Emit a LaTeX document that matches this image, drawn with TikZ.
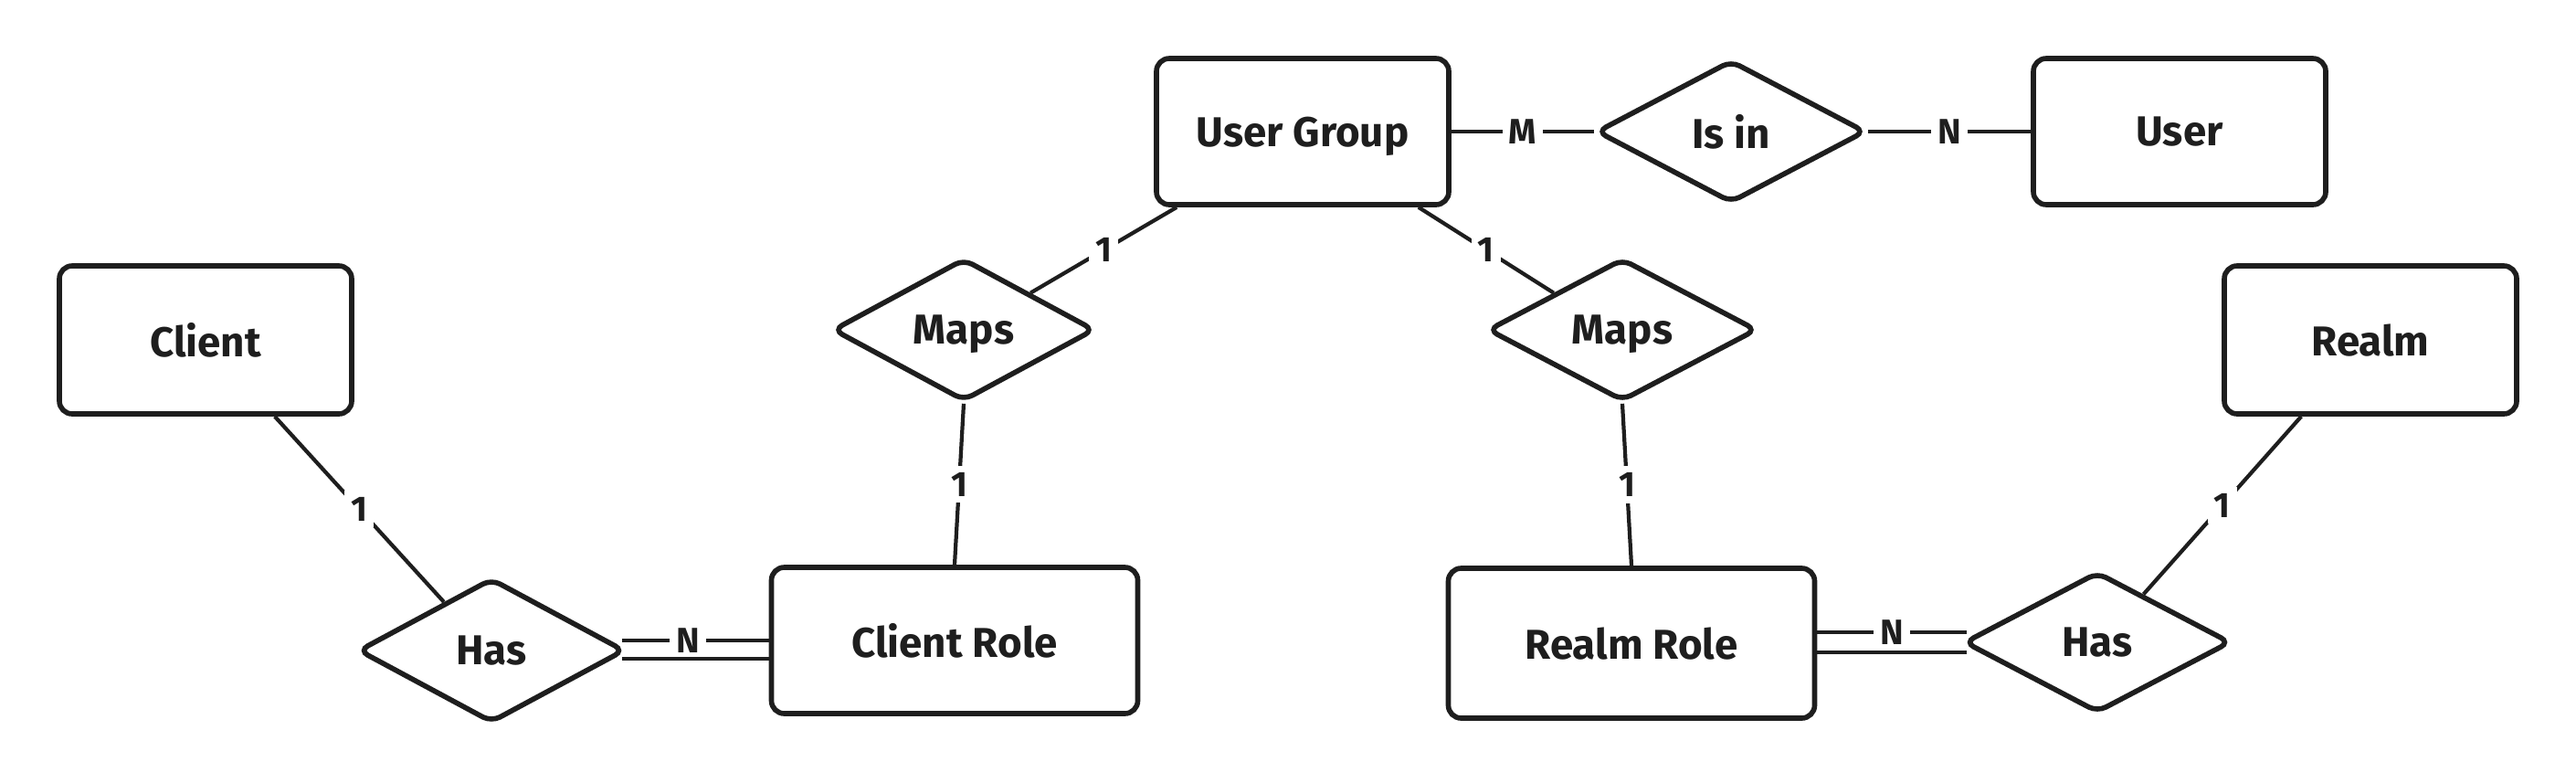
\documentclass[tikz,border=0pt]{standalone}
\usepackage{fontspec}
\setmainfont{Fira Sans}
\usetikzlibrary{calc, shapes.geometric}
\definecolor{ink}{HTML}{1E1E1E}

\begin{document}
\begin{tikzpicture}[
        entity/.style={rectangle, draw=ink, line width=1.6pt, rounded corners=4pt, minimum width=3.2cm, minimum height=1.6cm, text depth=0pt, font=\fontsize{13}{15}\selectfont\bfseries, text=ink},
        relation/.style={diamond, draw=ink, line width=1.6pt, rounded corners=3pt, minimum width=2.92cm, minimum height=1.56cm, inner sep=0pt, aspect=1.8, text depth=0pt, font=\fontsize{13}{15}\selectfont\bfseries, text=ink},
        link/.style={draw=ink, line width=1.2pt},
        card/.style={fill=white, inner sep=2pt, font=\fontsize{11}{12}\selectfont\bfseries, text=ink},
        ]
    \useasboundingbox (0, 0) rectangle (28.2, 8.56);

    % top row
    \node (UG) at (14.26, 7.12) [entity] {User Group};
    \node (IsIn) at (18.95, 7.12) [relation, minimum width=2.95cm] {Is in};
    \node (User) at (23.86, 7.12) [entity] {User};

    % middle row
    \node (Client) at (2.25, 4.84) [entity, minimum height=1.62cm] {Client};
    \node (MapsL) at (10.55, 4.95) [relation, minimum width=2.87cm] {Maps};
    \node (MapsR) at (17.76, 4.95) [relation, minimum width=2.95cm] {Maps};
    \node (Realm) at (25.95, 4.84) [entity, minimum height=1.62cm] {Realm};

    % bottom row
    \node (HasL) at (5.38, 1.44) [relation, minimum height=1.58cm] {Has};
    \node (CRole) at (10.45, 1.55) [entity, minimum width=4.01cm] {Client Role};
    \node (RRole) at (17.86, 1.52) [entity, minimum width=4.01cm, minimum height=1.64cm] {Realm Role};
    \node (HasR) at (22.96, 1.53) [relation, minimum height=1.54cm] {Has};

    \draw [link] (UG) -- node [card] {M} (IsIn);
    \draw [link] (IsIn) -- node [card] {N} (User);

    \draw [link] ($(UG.south west) + (0.25, 0)$) -- node [card] {1} (MapsL.north east);
    \draw [link] ($(UG.south east) + (-0.36, 0)$) -- node [card] {1} (MapsR.north west);
    \draw [link] (MapsL.south) -- node [card] {1} (CRole.north);
    \draw [link] (MapsR.south) -- node [card] {1} (RRole.north);

    \draw [link] ($(Client.south east) + (-0.87, 0)$) -- node [card] {1} ($(HasL.north)!0.35!(HasL.west)$);
    \draw [link] ($(Realm.south west) + (0.87, 0)$) -- node [card] {1} ($(HasR.north)!0.34!(HasR.east)$);

    % double lines
    \coordinate (HL1) at ($(HasL.east) + (-0.06, 0.11)$);
    \coordinate (HL2) at ($(HasL.east) + (-0.06, -0.09)$);
    \coordinate (HR1) at ($(HasR.west) + (0.06, 0.11)$);
    \coordinate (HR2) at ($(HasR.west) + (0.06, -0.11)$);
    \draw [link] (HL1) -- node [card, pos=0.45] {N} (HL1 -| CRole.west);
    \draw [link] (HL2) -- (HL2 -| CRole.west);
    \draw [link] (HR1) -- node [card] {N} (HR1 -| RRole.east);
    \draw [link] (HR2) -- (HR2 -| RRole.east);
\end{tikzpicture}
\end{document}
